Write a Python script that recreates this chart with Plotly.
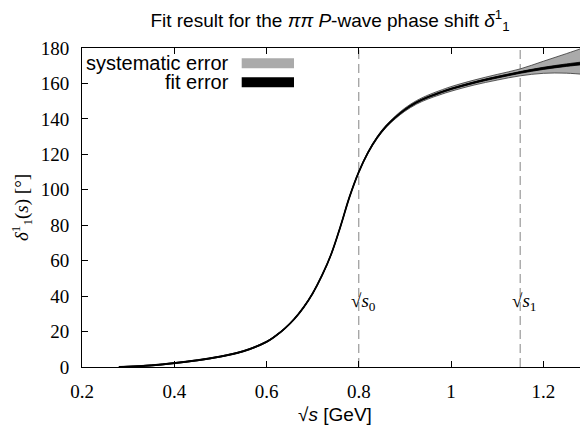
import plotly.graph_objects as go

# ---- data ----
sqrt_s = [0.28, 0.30, 0.35, 0.40, 0.45, 0.50, 0.55, 0.60, 0.62, 0.64, 0.66, 0.68,
          0.70, 0.72, 0.74, 0.76, 0.78, 0.80, 0.82, 0.84, 0.86, 0.88, 0.90, 0.925,
          0.95, 0.976, 1.00, 1.05, 1.10, 1.15, 1.20, 1.25, 1.30]
delta = [0.0, 0.15, 0.9, 2.2, 3.8, 5.9, 8.9, 14.2, 17.6, 21.8, 27.0, 33.5,
         41.5, 51.5, 63.5, 79.0, 96.0, 110.0, 121.0, 129.5, 136.0, 141.0, 145.2, 149.3,
         152.3, 154.8, 156.9, 160.5, 163.5, 166.2, 168.5, 170.3, 171.8]
sys_err_up = [0.3] * 18 + [0.5, 0.6, 0.7, 0.8, 0.9, 1.0, 1.1, 1.2, 1.3, 1.4, 1.6, 2.0, 4.0, 6.5, 9.5]
sys_err_down = [0.3] * 18 + [0.5, 0.6, 0.7, 0.8, 0.9, 1.0, 1.1, 1.2, 1.3, 1.4, 1.6, 1.9, 2.8, 4.5, 7.0]
fit_err = [0.25] * 23 + [0.3, 0.3, 0.35, 0.35, 0.4, 0.45, 0.5, 0.6, 0.7, 0.8]

matching_points = [0.8, 1.15]
matching_labels = ["√<i>s</i><sub>0</sub>", "√<i>s</i><sub>1</sub>"]
x_ticks = [0.2, 0.4, 0.6, 0.8, 1.0, 1.2]
x_tick_text = ["0.2", "0.4", "0.6", "0.8", "1", "1.2"]
y_ticks = [0, 20, 40, 60, 80, 100, 120, 140, 160, 180]

sys_hi = [d + e for d, e in zip(delta, sys_err_up)]
sys_lo = [d - e for d, e in zip(delta, sys_err_down)]
fit_hi = [d + e for d, e in zip(delta, fit_err)]
fit_lo = [d - e for d, e in zip(delta, fit_err)]

SERIF = "Liberation Serif"
SANS = "Liberation Sans"
GRAY = "#aaaaaa"
SM = 1.0

# figure fits the page area next to the 8px body margin
L, R, T, B = 74, 0, 40, 58
W, H = 580, 417
PW, PH = W - L - R, H - T - B


def px_x(p):  # figure px -> paper
    return (p - L) / PW


def px_y(p):
    return 1 - (p - T) / PH


fig = go.Figure()

for xm in matching_points:
    fig.add_trace(go.Scatter(x=[xm, xm], y=[0, 180], mode="lines",
                             line=dict(color="#999999", width=1.2, dash="9px,5px"),
                             hoverinfo="skip", showlegend=False))

fig.add_trace(go.Scatter(x=sqrt_s, y=sys_lo, mode="lines",
                         line=dict(color="#333333", width=0.8, shape="spline", smoothing=SM),
                         showlegend=False, hoverinfo="skip"))
fig.add_trace(go.Scatter(x=sqrt_s, y=sys_hi, mode="lines", fill="tonexty", fillcolor=GRAY,
                         line=dict(color="#333333", width=0.8, shape="spline", smoothing=SM),
                         showlegend=False, hoverinfo="skip"))
fig.add_trace(go.Scatter(x=sqrt_s, y=fit_lo, mode="lines",
                         line=dict(color="black", width=0.8, shape="spline", smoothing=SM),
                         showlegend=False, hoverinfo="skip"))
fig.add_trace(go.Scatter(x=sqrt_s, y=fit_hi, mode="lines", fill="tonexty", fillcolor="black",
                         line=dict(color="black", width=0.8, shape="spline", smoothing=SM),
                         showlegend=False, hoverinfo="skip"))
fig.add_trace(go.Scatter(x=sqrt_s, y=delta, mode="lines",
                         line=dict(color="black", width=1.8, shape="spline", smoothing=SM),
                         showlegend=False, hoverinfo="skip"))

for xm, lab in zip(matching_points, matching_labels):
    fig.add_annotation(x=xm, y=36.5, text=lab, showarrow=False, xanchor="left", yanchor="middle",
                       xshift=-10, font=dict(family=SERIF, size=19, color="black"))

# legend (gnuplot style: right-aligned text, sample bar on the right)
fig.add_annotation(xref="paper", yref="paper", x=px_x(223), y=px_y(55),
                   text="systematic error", showarrow=False, xanchor="right", yanchor="middle",
                   font=dict(family=SANS, size=20, color="black"))
fig.add_annotation(xref="paper", yref="paper", x=px_x(223), y=px_y(74),
                   text="fit error", showarrow=False, xanchor="right", yanchor="middle",
                   font=dict(family=SANS, size=20, color="black"))
fig.add_shape(type="rect", xref="paper", yref="paper", x0=px_x(233.7), x1=px_x(286),
              y0=px_y(60.3), y1=px_y(50.3), fillcolor=GRAY, line=dict(width=0))
fig.add_shape(type="rect", xref="paper", yref="paper", x0=px_x(233.7), x1=px_x(286),
              y0=px_y(79.3), y1=px_y(69.3), fillcolor="black", line=dict(width=0))

axis_common = dict(showgrid=False, zeroline=False, showline=True, linecolor="black", linewidth=1,
                   mirror="ticks", ticks="inside", ticklen=6, tickcolor="black", tickwidth=1,
                   tickfont=dict(family=SERIF, size=19, color="black"))

fig.update_layout(
    width=W, height=H,
    margin=dict(l=L, r=R, t=T, b=B),
    plot_bgcolor="white", paper_bgcolor="white",
    title=dict(text="Fit result for the <i>ππ P</i>-wave phase shift <i>δ</i><sup>1</sup><sub>1</sub>",
               xref="container", x=322 / W, xanchor="center", yref="container", y=1 - 12 / H,
               yanchor="middle", font=dict(family=SANS, size=19, color="black")),
    xaxis=dict(range=[0.2, 1.297], tickvals=x_ticks, ticktext=x_tick_text, ticklabelstandoff=7,
               title=dict(text="√<i>s</i> [GeV]", font=dict(family=SANS, size=19, color="black"), standoff=6),
               **axis_common),
    yaxis=dict(range=[0, 180], tickvals=y_ticks, ticklabelstandoff=8,
               title=dict(text="<i>δ</i><sup>1</sup><sub>1</sub>(<i>s</i>) [°]",
                          font=dict(family=SERIF, size=19, color="black"), standoff=10),
               **axis_common),
)

fig.write_html("out.html")
